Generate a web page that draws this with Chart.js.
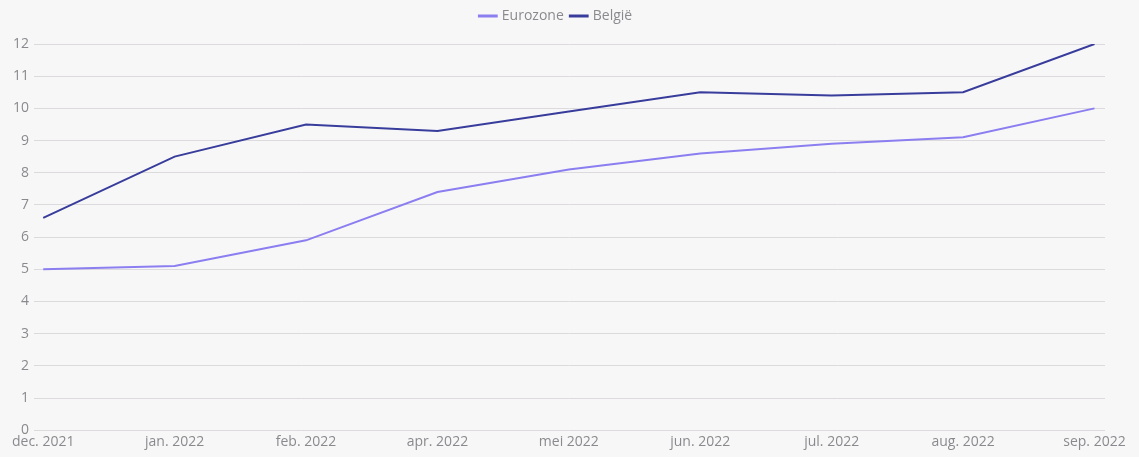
<!DOCTYPE html>
<html>
<head>
<meta charset="utf-8">
<script src="https://cdn.jsdelivr.net/npm/chart.js@4"></script>
<style>
  html, body { margin: 0; padding: 0; background: #f8f7f8; }
  #wrap { width: 1139px; height: 457px; }
</style>
</head>
<body>
<div id="wrap"><canvas id="inflationChart" width="1139" height="457"></canvas></div>
<script>
  const months = ['dec. 2021', 'jan. 2022', 'feb. 2022', 'apr. 2022', 'mei 2022', 'jun. 2022', 'jul. 2022', 'aug. 2022', 'sep. 2022'];
  const eurozone = [5.0, 5.1, 5.9, 7.4, 8.1, 8.6, 8.9, 9.1, 10.0];
  const belgie = [6.6, 8.5, 9.5, 9.3, 9.9, 10.5, 10.4, 10.5, 12.0];
  const yTicks = [0, 1, 2, 3, 4, 5, 6, 7, 8, 9, 10, 11, 12];

  const toPoints = values => values.map((v, i) => ({ x: i, y: v }));

  Chart.defaults.font.family = "'Open Sans', sans-serif";
  Chart.defaults.font.size = 14;
  Chart.defaults.color = '#8a8a8e';

  // extra room under the legend
  const legendMargin = {
    id: 'legendMargin',
    beforeInit(chart) {
      const fit = chart.legend.fit;
      chart.legend.fit = function() {
        fit.bind(chart.legend)();
        this.height += 11;
      };
    }
  };

  const ctx = document.getElementById('inflationChart').getContext('2d');
  const chart = new Chart(ctx, {
    type: 'line',
    data: {
      datasets: [{
        label: 'Eurozone',
        data: toPoints(eurozone),
        borderColor: '#8b7ef0',
        backgroundColor: '#8b7ef0',
        borderWidth: 2,
        pointRadius: 0,
        tension: 0
      }, {
        label: 'België',
        data: toPoints(belgie),
        borderColor: '#383d9c',
        backgroundColor: '#383d9c',
        borderWidth: 2,
        pointRadius: 0,
        tension: 0
      }]
    },
    options: {
      responsive: false,
      animation: false,
      maintainAspectRatio: false,
      layout: { padding: { left: 8, right: 34, top: 1, bottom: 4 } },
      plugins: {
        legend: {
          labels: {
            usePointStyle: true,
            pointStyle: 'line',
            boxWidth: 20,
            padding: 8,
            color: '#8a8a8e',
            generateLabels: c => Chart.defaults.plugins.legend.labels.generateLabels(c)
              .map(item => Object.assign(item, { lineWidth: 3 }))
          }
        },
        tooltip: { enabled: false }
      },
      scales: {
        x: {
          type: 'linear',
          min: -0.07,
          max: 8.08,
          grid: { display: false, drawTicks: false },
          border: { display: false },
          ticks: {
            stepSize: 1,
            includeBounds: false,
            autoSkip: false,
            maxRotation: 0,
            padding: 3,
            callback: value => months[value]
          }
        },
        y: {
          min: 0,
          max: 12,
          afterBuildTicks: axis => { axis.ticks = yTicks.map(v => ({ value: v })); },
          grid: { color: '#dcdadc', drawTicks: false },
          border: { display: false },
          ticks: { padding: 5 }
        }
      }
    },
    plugins: [legendMargin]
  });
</script>
</body>
</html>
